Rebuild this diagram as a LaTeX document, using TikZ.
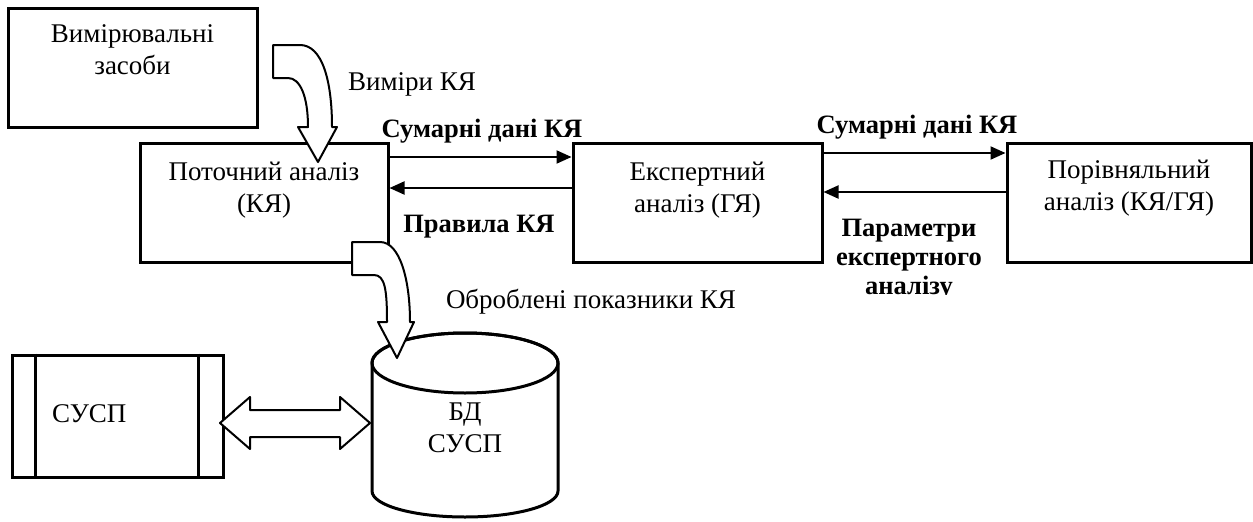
\documentclass[tikz,border=0pt]{standalone}
\usepackage{fontspec}
\setmainfont{Liberation Serif}
\usetikzlibrary{positioning,arrows.meta}

\begin{document}
\begin{tikzpicture}[x=1pt,y=-1pt,
    block/.style ={draw, line width=3pt, inner sep=0pt},
    txt/.style ={align=center, inner sep=0pt, font=\fontsize{27pt}{32pt}\selectfont},
    lbl/.style ={align=center, inner sep=0pt, font=\bfseries\fontsize{26.5pt}{29pt}\selectfont},
    flow/.style ={line width=2pt, -{Triangle[length=15pt,width=13pt]}},
    fat/.style ={draw, line width=2pt, fill=white, line join=round}]
   \useasboundingbox (0,0) rectangle (1253,522);
   % boxes
   \node[block, minimum width=249pt, minimum height=119pt] (VZ)   at (132.5,67.5)  {};
   \node[block, minimum width=248pt, minimum height=119pt] (PA)   at (264,202.5)   {};
   \node[block, minimum width=249pt, minimum height=119pt] (EA)   at (697.5,202.5) {};
   \node[block, minimum width=244pt, minimum height=119pt] (RA)   at (1129,202.5)  {};
   \node[block, minimum width=211pt, minimum height=122pt] (SUSP) at (117.5,416)   {};
   \draw[line width=3pt] ([xshift=25pt]SUSP.north west) -- ([xshift=25pt]SUSP.south west);
   \draw[line width=3pt] ([xshift=-26pt]SUSP.north east) -- ([xshift=-26pt]SUSP.south east);
   \node[txt, below=68pt of VZ.north, anchor=base] (VZt) {Вимірювальні\\засоби};
   \node[txt, below=71pt of PA.north, anchor=base] (PAt) {Поточний аналіз\\(КЯ)};
   \node[txt, below=71pt of EA.north, anchor=base] (EAt) {Експертний\\аналіз (ГЯ)};
   \node[txt, below=69pt of RA.north, anchor=base] (RAt) {Порівняльний\\аналіз (КЯ/ГЯ)};
   \node[txt, anchor=base west] (SUSPt) at (52,422) {СУСП};
   % database
   \draw[line width=3pt, fill=white] (372,363) -- (372,491)
      arc[start angle=180, end angle=360, x radius=93pt, y radius=26pt]
      -- (558,363) arc[start angle=0, end angle=180, x radius=93pt, y radius=30pt] -- cycle;
   \draw[line width=3pt] (465,363) ellipse[x radius=93pt, y radius=30pt];
   \node[txt, anchor=base] (BD) at (465,452) {БД\\СУСП};
   % data flows
   \draw[flow] ([yshift=45.5pt]PA.east) -- ([yshift=45.5pt]EA.west);
   \draw[flow] ([yshift=14.5pt]EA.west) -- ([yshift=14.5pt]PA.east);
   \draw[flow] ([yshift=49.5pt]EA.east) -- ([yshift=49.5pt]RA.west);
   \draw[flow] ([yshift=10.5pt]RA.west) -- ([yshift=10.5pt]EA.east);
   \node[lbl, anchor=base] (sum1) at (482,137) {Сумарні дані КЯ};
   \node[lbl, anchor=base] (prav) at (479,232) {Правила КЯ};
   \node[lbl, anchor=base] (sum2) at (917,133) {Сумарні дані КЯ};
   \begin{scope}
     \clip (780,200) rectangle (1040,294);
     \node[lbl, anchor=base] (param) at (909,294) {Параметри\\експертного\\аналізу};
   \end{scope}
   % block arrows
   \draw[fat] (273,45) -- (300,45) .. controls (322,45) and (332,80) .. (332,127)
      -- (337,127) -- (318,162) -- (298,127) -- (308,127)
      .. controls (308,96) and (300,78) .. (288,78) -- (273,78) -- cycle;
   \draw[fat] (352,242) -- (380,242) .. controls (400,242) and (410,280) .. (410,322)
      -- (414,322) -- (397,358) -- (378,322) -- (387,322)
      .. controls (387,290) and (385,275) .. (374,275) -- (352,275) -- cycle;
   \draw[fat] (220,423) -- (250,397) -- (250,410) -- (340,410) -- (340,397) -- (370,423)
      -- (340,449) -- (340,437) -- (250,437) -- (250,449) -- cycle;
   \node[txt, anchor=base] (vym) at (412,90) {Виміри КЯ};
   \node[txt, anchor=base] (obr) at (591,308) {Оброблені показники КЯ};
\end{tikzpicture}
\end{document}
